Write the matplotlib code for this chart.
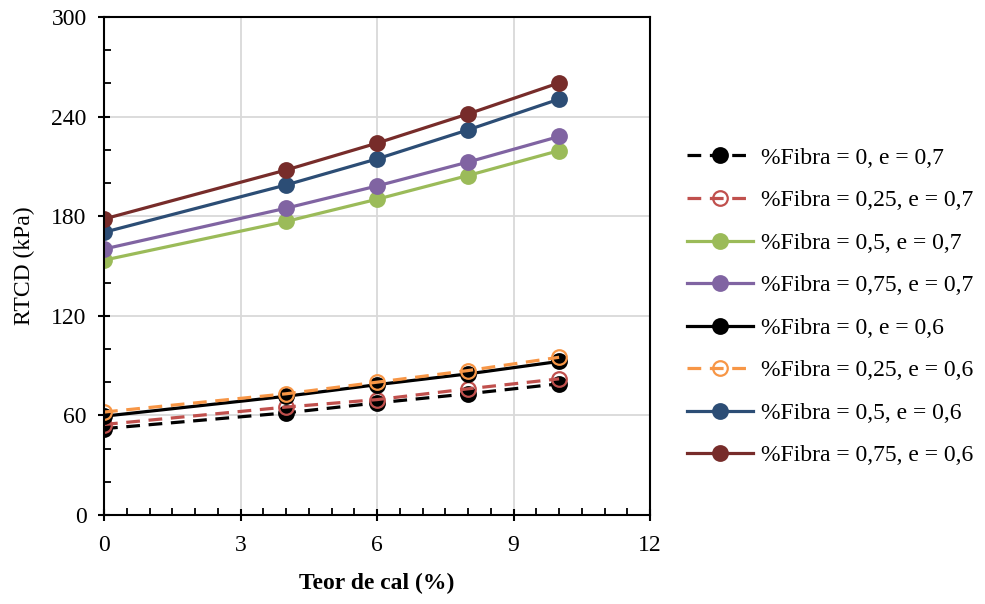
import matplotlib
matplotlib.use("Agg")
import matplotlib.pyplot as plt
from matplotlib.ticker import MultipleLocator

plt.rcParams['font.family'] = ['Liberation Serif', 'DejaVu Serif']

# teor de cal (%)
cal = [0, 4, 6, 8, 10]

# RTCD (kPa) por serie
f0_e07 = [52, 61.5, 67.5, 73, 79]
f025_e07 = [54.5, 65, 69.5, 76, 82]
f05_e07 = [153.5, 176.8, 190.2, 204.5, 219.5]
f075_e07 = [160.2, 184.8, 198.2, 212.6, 228]
f0_e06 = [59.5, 71.5, 78.5, 85, 92.5]
f025_e06 = [62, 73, 80, 87, 95]
f05_e06 = [170.3, 198.8, 214.5, 232, 250.5]
f075_e06 = [178.3, 207.8, 224, 241.6, 260.3]

labels = ['%Fibra = 0, e = 0,7', '%Fibra = 0,25, e = 0,7', '%Fibra = 0,5, e = 0,7',
          '%Fibra = 0,75, e = 0,7', '%Fibra = 0, e = 0,6', '%Fibra = 0,25, e = 0,6',
          '%Fibra = 0,5, e = 0,6', '%Fibra = 0,75, e = 0,6']
series = [f0_e07, f025_e07, f05_e07, f075_e07, f0_e06, f025_e06, f05_e06, f075_e06]
colors = ['#000000', '#c0504d', '#9bbb59', '#8064a2', '#000000', '#f79646', '#2c4d75', '#772c2a']
styles = ['--', '--', '-', '-', '-', '--', '-', '-']
hollow = [False, True, False, False, False, True, False, False]

fig = plt.figure(figsize=(9.85, 6.04), dpi=100)
ax = fig.add_axes([0.1056, 0.1474, 0.5544, 0.8245])

for y, lab, c, ls, h in zip(series, labels, colors, styles, hollow):
    ax.plot(cal, y, ls, color=c, lw=2.3, marker='o', ms=10.5,
            mfc='none' if h else c, mec=c, mew=1.6, label=lab,
            dashes=(4.3, 2.7) if ls == '--' else (None, None))

ax.set_xlim(0, 12)
ax.set_ylim(0, 300)
ax.xaxis.set_major_locator(MultipleLocator(3))
ax.xaxis.set_minor_locator(MultipleLocator(0.5))
ax.yaxis.set_major_locator(MultipleLocator(60))
ax.yaxis.set_minor_locator(MultipleLocator(20))
ax.grid(True, which='major', color='#d9d9d9', lw=1.3)
ax.set_axisbelow(True)
ax.tick_params(which='major', direction='inout', length=9, width=1.5, labelsize=17, color='black')
ax.tick_params(axis='x', which='major', pad=10)
ax.tick_params(axis='y', which='major', pad=8)
ax.tick_params(which='minor', direction='in', length=5, width=1.3, color='black')
for s in ax.spines.values():
    s.set_linewidth(1.5)
    s.set_color('black')

ax.set_xlabel('Teor de cal (%)', fontsize=17, fontweight='bold', labelpad=12)
ax.set_ylabel('RTCD (kPa)', fontsize=17, labelpad=12)

fig.legend(*ax.get_legend_handles_labels(), loc='center left', bbox_to_anchor=(0.697, 0.492),
           frameon=False, fontsize=17, handlelength=2.8, labelspacing=0.89,
           handletextpad=0.35, borderaxespad=0, borderpad=0)

fig.savefig('out.png', dpi=100)
